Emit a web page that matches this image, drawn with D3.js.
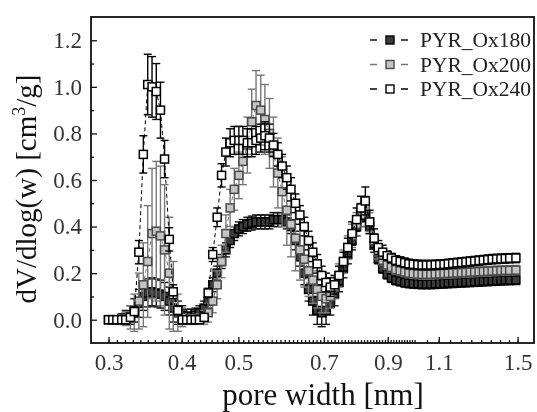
<!DOCTYPE html>
<html>
<head>
<meta charset="utf-8">
<script src="https://cdn.jsdelivr.net/npm/d3@7/dist/d3.min.js"></script>
<style>
  body { margin: 0; background: #fff; }
  svg text { font-family: "Liberation Serif", "Times New Roman", Tinos, "DejaVu Serif", "Noto Serif", serif; }
  svg { filter: blur(0.35px); }
</style>
</head>
<body>
<svg width="537" height="412"></svg>
<script>
// anchos de poro (nm), rejilla comun a las tres muestras
const anchoPoro = [
  0.300, 0.305, 0.310, 0.316, 0.321, 0.327, 0.332, 0.338, 0.344, 0.350,
  0.356, 0.362, 0.368, 0.374, 0.381, 0.387, 0.394, 0.401, 0.408, 0.415,
  0.422, 0.429, 0.437, 0.444, 0.452, 0.460, 0.468, 0.476, 0.484, 0.492,
  0.501, 0.509, 0.518, 0.527, 0.536, 0.546, 0.555, 0.565, 0.574, 0.584,
  0.594, 0.605, 0.615, 0.626, 0.637, 0.648, 0.659, 0.670, 0.682, 0.694,
  0.706, 0.718, 0.730, 0.743, 0.756, 0.769, 0.782, 0.796, 0.810, 0.824,
  0.838, 0.853, 0.867, 0.882, 0.898, 0.913, 0.929, 0.945, 0.962, 0.978,
  0.995, 1.013, 1.030, 1.048, 1.066, 1.085, 1.104, 1.123, 1.142, 1.162,
  1.182, 1.203, 1.224, 1.245, 1.267, 1.289, 1.311, 1.334, 1.357, 1.381,
  1.405, 1.429, 1.454, 1.490
];

// dV/dlog(w) de cada muestra
const ox180 = [
  0.00, 0.00, 0.00, 0.005, 0.01, 0.02, 0.04, 0.07, 0.10, 0.115,
  0.12, 0.115, 0.11, 0.10, 0.08, 0.05, 0.03, 0.02, 0.015, 0.015,
  0.02, 0.03, 0.05, 0.08, 0.15, 0.20, 0.25, 0.30, 0.34, 0.37,
  0.39, 0.40, 0.41, 0.415, 0.42, 0.42, 0.42, 0.42, 0.43, 0.43,
  0.43, 0.42, 0.40, 0.34, 0.27, 0.20, 0.13, 0.08, 0.04, 0.03,
  0.04, 0.07, 0.11, 0.16, 0.22, 0.28, 0.34, 0.40, 0.44, 0.46,
  0.40, 0.32, 0.26, 0.22, 0.195, 0.18, 0.17, 0.165, 0.16, 0.157,
  0.155, 0.154, 0.153, 0.153, 0.153, 0.154, 0.155, 0.156, 0.157, 0.158,
  0.159, 0.160, 0.161, 0.162, 0.163, 0.164, 0.165, 0.166, 0.167, 0.168,
  0.169, 0.170, 0.170, 0.171
];
const ox200 = [
  0.00, 0.00, 0.00, 0.00, 0.005, 0.01, 0.03, 0.08, 0.15, 0.25,
  0.37, 0.38, 0.36, 0.30, 0.20, 0.10, 0.03, 0.01, 0.00, 0.00,
  0.00, 0.005, 0.01, 0.03, 0.08, 0.15, 0.25, 0.37, 0.48, 0.56,
  0.62, 0.68, 0.75, 0.85, 0.92, 0.90, 0.86, 0.80, 0.72, 0.63,
  0.55, 0.47, 0.41, 0.35, 0.30, 0.26, 0.21, 0.17, 0.13, 0.10,
  0.09, 0.10, 0.14, 0.19, 0.25, 0.31, 0.36, 0.41, 0.45, 0.48,
  0.42, 0.34, 0.29, 0.255, 0.235, 0.225, 0.215, 0.21, 0.205, 0.20,
  0.198, 0.196, 0.195, 0.195, 0.195, 0.196, 0.197, 0.198, 0.199, 0.200,
  0.201, 0.202, 0.203, 0.204, 0.205, 0.206, 0.207, 0.208, 0.209, 0.210,
  0.211, 0.212, 0.212, 0.213
];
const ox240 = [
  0.00, 0.00, 0.00, 0.00, 0.00, 0.01, 0.035, 0.29, 0.71, 1.01,
  1.00, 0.98, 0.90, 0.69, 0.345, 0.12, 0.04, 0.00, 0.00, 0.00,
  0.00, 0.00, 0.01, 0.115, 0.28, 0.44, 0.62, 0.72, 0.76, 0.77,
  0.77, 0.77, 0.76, 0.76, 0.77, 0.78, 0.79, 0.78, 0.75, 0.71,
  0.66, 0.61, 0.56, 0.50, 0.45, 0.40, 0.34, 0.29, 0.24, 0.19,
  0.16, 0.14, 0.15, 0.19, 0.25, 0.31, 0.37, 0.43, 0.48, 0.51,
  0.42, 0.35, 0.31, 0.29, 0.275, 0.265, 0.255, 0.25, 0.245, 0.24,
  0.238, 0.236, 0.235, 0.235, 0.235, 0.236, 0.237, 0.238, 0.240, 0.242,
  0.244, 0.246, 0.248, 0.250, 0.252, 0.254, 0.256, 0.258, 0.260, 0.261,
  0.262, 0.263, 0.264, 0.265
];

// barras de error (+/-)
const err180 = [
  0.01, 0.01, 0.01, 0.02, 0.03, 0.04, 0.05, 0.06, 0.06, 0.06,
  0.06, 0.06, 0.06, 0.06, 0.06, 0.06, 0.05, 0.04, 0.03, 0.03,
  0.03, 0.03, 0.03, 0.03, 0.03, 0.03, 0.03, 0.03, 0.03, 0.03,
  0.03, 0.03, 0.03, 0.03, 0.03, 0.03, 0.03, 0.03, 0.03, 0.03,
  0.03, 0.03, 0.03, 0.04, 0.04, 0.05, 0.05, 0.06, 0.06, 0.06,
  0.06, 0.05, 0.05, 0.04, 0.04, 0.04, 0.04, 0.04, 0.04, 0.04,
  0.03, 0.03, 0.02, 0.02, 0.02, 0.02, 0.02, 0.02, 0.02, 0.02,
  0.02, 0.02, 0.02, 0.02, 0.02, 0.02, 0.02, 0.02, 0.02, 0.02,
  0.02, 0.02, 0.02, 0.02, 0.02, 0.02, 0.02, 0.02, 0.02, 0.02,
  0.02, 0.02, 0.02, 0.02
];
const err200 = [
  0.01, 0.01, 0.01, 0.02, 0.03, 0.05, 0.08, 0.12, 0.18, 0.24,
  0.28, 0.30, 0.30, 0.28, 0.24, 0.15, 0.08, 0.04, 0.02, 0.02,
  0.02, 0.02, 0.03, 0.04, 0.05, 0.06, 0.07, 0.08, 0.08, 0.09,
  0.10, 0.10, 0.12, 0.14, 0.15, 0.15, 0.15, 0.15, 0.15, 0.15,
  0.15, 0.15, 0.14, 0.14, 0.13, 0.12, 0.11, 0.10, 0.08, 0.07,
  0.06, 0.05, 0.05, 0.05, 0.05, 0.05, 0.05, 0.05, 0.05, 0.05,
  0.04, 0.03, 0.03, 0.02, 0.02, 0.02, 0.02, 0.02, 0.02, 0.02,
  0.02, 0.02, 0.02, 0.02, 0.02, 0.02, 0.02, 0.02, 0.02, 0.02,
  0.02, 0.02, 0.02, 0.02, 0.02, 0.02, 0.02, 0.02, 0.02, 0.02,
  0.02, 0.02, 0.02, 0.02
];
const err240 = [
  0.01, 0.01, 0.01, 0.01, 0.01, 0.01, 0.02, 0.05, 0.08, 0.13,
  0.13, 0.12, 0.12, 0.08, 0.05, 0.03, 0.02, 0.01, 0.01, 0.01,
  0.01, 0.01, 0.01, 0.02, 0.03, 0.04, 0.05, 0.06, 0.06, 0.06,
  0.06, 0.06, 0.06, 0.06, 0.06, 0.06, 0.06, 0.06, 0.05, 0.05,
  0.05, 0.05, 0.05, 0.04, 0.04, 0.04, 0.04, 0.04, 0.04, 0.04,
  0.04, 0.04, 0.04, 0.04, 0.04, 0.04, 0.05, 0.05, 0.05, 0.06,
  0.05, 0.04, 0.03, 0.03, 0.02, 0.02, 0.02, 0.02, 0.02, 0.02,
  0.02, 0.02, 0.02, 0.02, 0.02, 0.02, 0.02, 0.02, 0.02, 0.02,
  0.02, 0.02, 0.02, 0.02, 0.02, 0.02, 0.02, 0.02, 0.02, 0.02,
  0.02, 0.02, 0.02, 0.02
];

const nombres = ["PYR_Ox180", "PYR_Ox200", "PYR_Ox240"];
const ticksX = [0.3, 0.4, 0.5, 0.7, 0.9, 1.1, 1.5];
const ticksY = [0.0, 0.2, 0.4, 0.6, 0.8, 1.0, 1.2];

const series = [
  { nombre: nombres[0], y: ox180, e: err180, relleno: "#3c3c3c", borde: "#000", barra: "#111" },
  { nombre: nombres[1], y: ox200, e: err200, relleno: "#c4c4c4", borde: "#4a4a4a", barra: "#777" },
  { nombre: nombres[2], y: ox240, e: err240, relleno: "#ffffff", borde: "#000", barra: "#000" },
];

const svg = d3.select("svg");
const izq = 91, der = 534, arriba = 17, abajo = 343;

const x = d3.scaleLog().domain([0.28, 1.6]).range([izq, der]);
const y = d3.scaleLinear().domain([-0.1, 1.3]).range([abajo, arriba]);

// ejes con marcas hacia dentro
const menoresX = d3.range(0.30, 0.995, 0.01).concat(d3.range(1.0, 1.52, 0.05));
svg.append("g")
  .attr("transform", `translate(0,${abajo})`)
  .call(d3.axisBottom(x).tickValues(menoresX).tickSize(-3).tickFormat(""))
  .call(g => g.select(".domain").remove());
svg.append("g")
  .attr("transform", `translate(0,${abajo})`)
  .call(d3.axisBottom(x).tickValues(ticksX).tickSize(-6).tickPadding(11).tickFormat(d3.format(".1f")))
  .call(g => g.select(".domain").remove())
  .selectAll("text")
  .attr("font-size", 23)
  .attr("fill", "#333");

svg.append("g")
  .attr("transform", `translate(${izq},0)`)
  .call(d3.axisLeft(y).tickValues([0.1, 0.3, 0.5, 0.7, 0.9, 1.1]).tickSize(-3).tickFormat(""))
  .call(g => g.select(".domain").remove());
svg.append("g")
  .attr("transform", `translate(${izq},0)`)
  .call(d3.axisLeft(y).tickValues(ticksY).tickSize(-6).tickPadding(9).tickFormat(d3.format(".1f")))
  .call(g => g.select(".domain").remove())
  .selectAll("text")
  .attr("font-size", 23)
  .attr("fill", "#333");

svg.selectAll(".tick line").attr("stroke", "#111").attr("stroke-width", 1.3);

// datos
const linea = d3.line().x((d, i) => x(anchoPoro[i])).y(d => y(d));

series.forEach(s => {
  const g = svg.append("g");
  g.append("path")
    .attr("d", linea(s.y))
    .attr("fill", "none")
    .attr("stroke", s.barra)
    .attr("stroke-dasharray", "4,3");

  const puntos = s.y.map((v, i) => ({ px: anchoPoro[i], v: v, e: s.e[i] }));

  const err = g.selectAll(".err").data(puntos).enter().append("g");
  err.append("line")
    .attr("x1", d => x(d.px)).attr("x2", d => x(d.px))
    .attr("y1", d => y(d.v - d.e)).attr("y2", d => y(d.v + d.e))
    .attr("stroke", s.barra).attr("stroke-width", 1.4);
  err.append("line")
    .attr("x1", d => x(d.px) - 4).attr("x2", d => x(d.px) + 4)
    .attr("y1", d => y(d.v + d.e)).attr("y2", d => y(d.v + d.e))
    .attr("stroke", s.barra).attr("stroke-width", 1.4);
  err.append("line")
    .attr("x1", d => x(d.px) - 4).attr("x2", d => x(d.px) + 4)
    .attr("y1", d => y(d.v - d.e)).attr("y2", d => y(d.v - d.e))
    .attr("stroke", s.barra).attr("stroke-width", 1.4);

  g.selectAll("rect").data(puntos).enter().append("rect")
    .attr("x", d => x(d.px) - 4)
    .attr("y", d => y(d.v) - 4)
    .attr("width", 8).attr("height", 8)
    .attr("fill", s.relleno)
    .attr("stroke", s.borde)
    .attr("stroke-width", 1.5);
});

// marco
svg.append("rect")
  .attr("x", izq).attr("y", arriba)
  .attr("width", der - izq).attr("height", abajo - arriba)
  .attr("fill", "none").attr("stroke", "#111").attr("stroke-width", 1.8);

// leyenda
const leyenda = svg.append("g");
series.forEach((s, i) => {
  const cy = 40 + i * 24.5;
  leyenda.append("line").attr("x1", 370).attr("x2", 377).attr("y1", cy).attr("y2", cy)
    .attr("stroke", s.barra).attr("stroke-width", 1.5);
  leyenda.append("line").attr("x1", 401).attr("x2", 408).attr("y1", cy).attr("y2", cy)
    .attr("stroke", s.barra).attr("stroke-width", 1.5);
  leyenda.append("rect").attr("x", 386).attr("y", cy - 4).attr("width", 8).attr("height", 8)
    .attr("fill", s.relleno).attr("stroke", s.borde).attr("stroke-width", 1.4);
  leyenda.append("text").attr("x", 420).attr("y", cy + 7)
    .attr("font-size", 21.5).attr("fill", "#222")
    .text(s.nombre);
});

// titulos de ejes
svg.append("text")
  .attr("x", 323).attr("y", 405)
  .attr("text-anchor", "middle")
  .attr("font-size", 31).attr("fill", "#111")
  .text("pore width [nm]");

const tituloY = svg.append("text")
  .attr("transform", "translate(36,189) rotate(-90)")
  .attr("text-anchor", "middle")
  .attr("font-size", 29).attr("fill", "#111");
tituloY.append("tspan").text("dV/dlog(w) [cm");
tituloY.append("tspan").attr("font-size", 18).attr("dy", -11).text("3");
tituloY.append("tspan").attr("dy", 11).text("/g]");
</script>
</body>
</html>
